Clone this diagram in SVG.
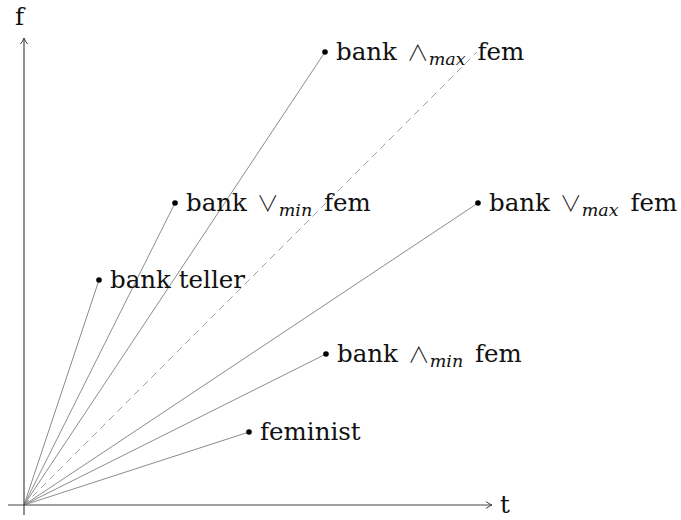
<svg xmlns="http://www.w3.org/2000/svg" width="681" height="520" viewBox="0 0 681 520">
<style>
.ray{stroke:#8c8c8c;stroke-width:1;fill:none}
.dash{stroke:#a0a0a0;stroke-width:1;stroke-dasharray:7 5;fill:none}
.axis{stroke:#444;stroke-width:1.2;fill:none}
.lbl{font-family:"DejaVu Serif",serif;font-size:24.5px;fill:#111}
.sub{font-family:"DejaVu Serif",serif;font-style:italic;font-size:17.5px}
.op{font-family:"Noto Sans CJK JP","DejaVu Sans",sans-serif;font-weight:300;font-size:22px;fill:#222}
.dot{fill:#000}
</style>
<defs>
<marker id="arr" markerWidth="10" markerHeight="10" refX="7" refY="5" orient="auto" markerUnits="userSpaceOnUse">
<path d="M1,1.5 Q4,4 7,5 Q4,6 1,8.5" fill="none" stroke="#444" stroke-width="1"/>
</marker>
</defs>
<g id="connectors">
<line class="dash" x1="24" y1="505" x2="477" y2="52"/>
<line class="ray" x1="24" y1="505" x2="325" y2="52"/>
<line class="ray" x1="24" y1="505" x2="175" y2="203"/>
<line class="ray" x1="24" y1="505" x2="478" y2="203"/>
<line class="ray" x1="24" y1="505" x2="99" y2="280"/>
<line class="ray" x1="24" y1="505" x2="326" y2="354"/>
<line class="ray" x1="24" y1="505" x2="249" y2="432"/>
</g>
<g id="axes">
<line class="axis" x1="24" y1="515" x2="24" y2="38" marker-end="url(#arr)"/>
<line class="axis" x1="8" y1="505" x2="492" y2="505" marker-end="url(#arr)"/>
<text class="lbl" x="15" y="25">f</text>
<text class="lbl" x="500" y="513">t</text>
</g>
<g id="n-andmax">
<circle class="dot" cx="325" cy="52" r="2.8"/>
<text class="lbl" x="336" y="60">bank <tspan class="op" dx="2">∧</tspan><tspan class="sub" dy="5">max</tspan><tspan dy="-5" dx="4"> fem</tspan></text>
</g>
<g id="n-ormin">
<circle class="dot" cx="175" cy="203" r="2.8"/>
<text class="lbl" x="186" y="211">bank <tspan class="op" dx="2">∨</tspan><tspan class="sub" dy="5">min</tspan><tspan dy="-5" dx="4"> fem</tspan></text>
</g>
<g id="n-ormax">
<circle class="dot" cx="478" cy="203" r="2.8"/>
<text class="lbl" x="489" y="211">bank <tspan class="op" dx="2">∨</tspan><tspan class="sub" dy="5">max</tspan><tspan dy="-5" dx="4"> fem</tspan></text>
</g>
<g id="n-teller">
<circle class="dot" cx="99" cy="280" r="2.8"/>
<text class="lbl" x="110" y="288">bank teller</text>
</g>
<g id="n-andmin">
<circle class="dot" cx="326" cy="354" r="2.8"/>
<text class="lbl" x="337" y="362">bank <tspan class="op" dx="2">∧</tspan><tspan class="sub" dy="5">min</tspan><tspan dy="-5" dx="4"> fem</tspan></text>
</g>
<g id="n-feminist">
<circle class="dot" cx="249" cy="432" r="2.8"/>
<text class="lbl" x="260" y="440">feminist</text>
</g>
</svg>
